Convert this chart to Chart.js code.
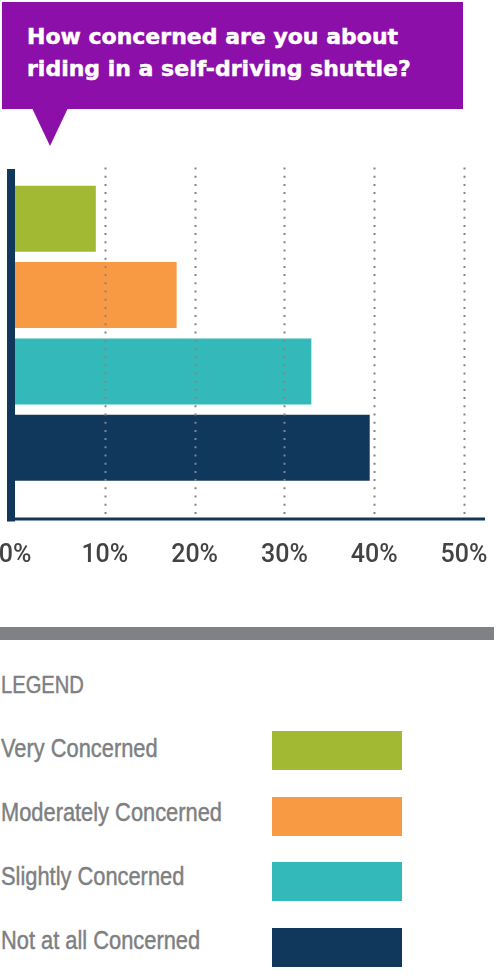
<!DOCTYPE html>
<html>
<head>
<meta charset="utf-8">
<script src="https://cdn.jsdelivr.net/npm/chart.js@4/dist/chart.umd.min.js"></script>
<style>
  body { margin: 0; background: #fff; }
  #page { position: relative; width: 496px; height: 976px; overflow: hidden; }
  .bubble { position: absolute; left: 2px; top: 2px; width: 461px; height: 107px; background: #8b0fa8; }
  .pointer { position: absolute; left: 32px; top: 108px; width: 36px; height: 38px; background: #8b0fa8;
             clip-path: polygon(0 0, 100% 0, 50% 100%); }
  .question { position: absolute; left: 27px; top: 21px; color: #fff; font: bold 22px/32px "DejaVu Sans", sans-serif;
              -webkit-text-stroke: 0.5px #fff; }
  #chart { position: absolute; left: 0; top: 160px; }
  .divider { position: absolute; left: 0; top: 627px; width: 494px; height: 13px; background: #808184; }
  .legend-title, .legend-label { position: absolute; left: 1px; color: #7d7f82; white-space: nowrap;
             font: 26px/26px "Liberation Sans", sans-serif; -webkit-text-stroke: 0.45px #7d7f82;
             transform: scaleX(0.84); transform-origin: 0 0; }
  .legend-title { top: 672px; font-size: 24px; line-height: 25px; }
  .swatch { position: absolute; left: 272px; width: 130px; height: 39px; }
</style>
</head>
<body>
<div id="page">
  <div class="bubble"></div>
  <div class="pointer"></div>
  <div class="question">How concerned are you about<br>riding in a self-driving shuttle?</div>
  <canvas id="chart" width="496" height="460"></canvas>
  <div class="divider"></div>
  <div class="legend-title">LEGEND</div>
  <div id="legend"></div>
</div>
<script>
const categories = ["Very Concerned", "Moderately Concerned", "Slightly Concerned", "Not at all Concerned"];
const shares = [9, 18, 33, 39.5];
const barColors = ["#a1b933", "#f89a43", "#33b9b9", "#10375c"];
const tickValues = [0, 10, 20, 30, 40, 50];

const AXIS_COLOR = "#10375c";
const TICK_FONT = { family: "Roboto, 'Liberation Sans', sans-serif", size: 25, weight: "500" };

// dotted gridlines over the bars plus the heavy left / bottom axis lines
const framePlugin = {
    id: "frame",
    afterDatasetsDraw(chart) {
        const { ctx, chartArea, scales } = chart;
        const top = chartArea.top - 13;
        const bottom = chartArea.bottom + 32;

        ctx.save();
        ctx.strokeStyle = "#858585";
        ctx.lineWidth = 2;
        ctx.setLineDash([2, 6.2]);
        tickValues.slice(1).forEach(v => {
            const x = Math.round(scales.x.getPixelForValue(v)) + 0.5;
            ctx.beginPath();
            ctx.moveTo(x, top);
            ctx.lineTo(x, bottom);
            ctx.stroke();
        });
        ctx.setLineDash([]);

        ctx.fillStyle = AXIS_COLOR;
        ctx.fillRect(7, chartArea.top - 11.5, chartArea.left - 7, bottom - top + 2);
        ctx.fillRect(7, chartArea.bottom + 31.5, chartArea.right + 21 - 7, 3);
        ctx.restore();
    }
};

new Chart(document.getElementById("chart").getContext("2d"), {
    type: "bar",
    data: {
        labels: categories,
        datasets: [{
            data: shares,
            backgroundColor: barColors,
            barPercentage: 0.863,
            categoryPercentage: 1
        }]
    },
    options: {
        indexAxis: "y",
        responsive: false,
        animation: false,
        devicePixelRatio: 1,
        layout: { padding: { top: 20.5, left: 15, right: 32, bottom: 2 } },
        plugins: { legend: { display: false }, tooltip: { enabled: false } },
        scales: {
            x: {
                min: 0,
                max: 50,
                afterBuildTicks: axis => { axis.ticks = tickValues.map(v => ({ value: v })); },
                // keep the plot flush with the left axis line
                afterFit: axis => { axis.paddingLeft = 0; axis.paddingRight = 0; },
                ticks: {
                    callback: v => v + "%",
                    color: "#434343",
                    font: TICK_FONT,
                    padding: 47,
                    maxRotation: 0,
                    autoSkip: false
                },
                grid: { display: false },
                border: { display: false }
            },
            y: { display: false }
        }
    },
    plugins: [framePlugin]
});

// legend rows
const legend = document.getElementById("legend");
categories.forEach((name, i) => {
    const label = document.createElement("div");
    label.className = "legend-label";
    label.style.top = (735 + i * 64) + "px";
    label.textContent = name;
    legend.appendChild(label);

    const sw = document.createElement("div");
    sw.className = "swatch";
    sw.style.top = Math.round(731 + i * 65.7) + "px";
    sw.style.background = barColors[i];
    legend.appendChild(sw);
});
</script>
</body>
</html>
